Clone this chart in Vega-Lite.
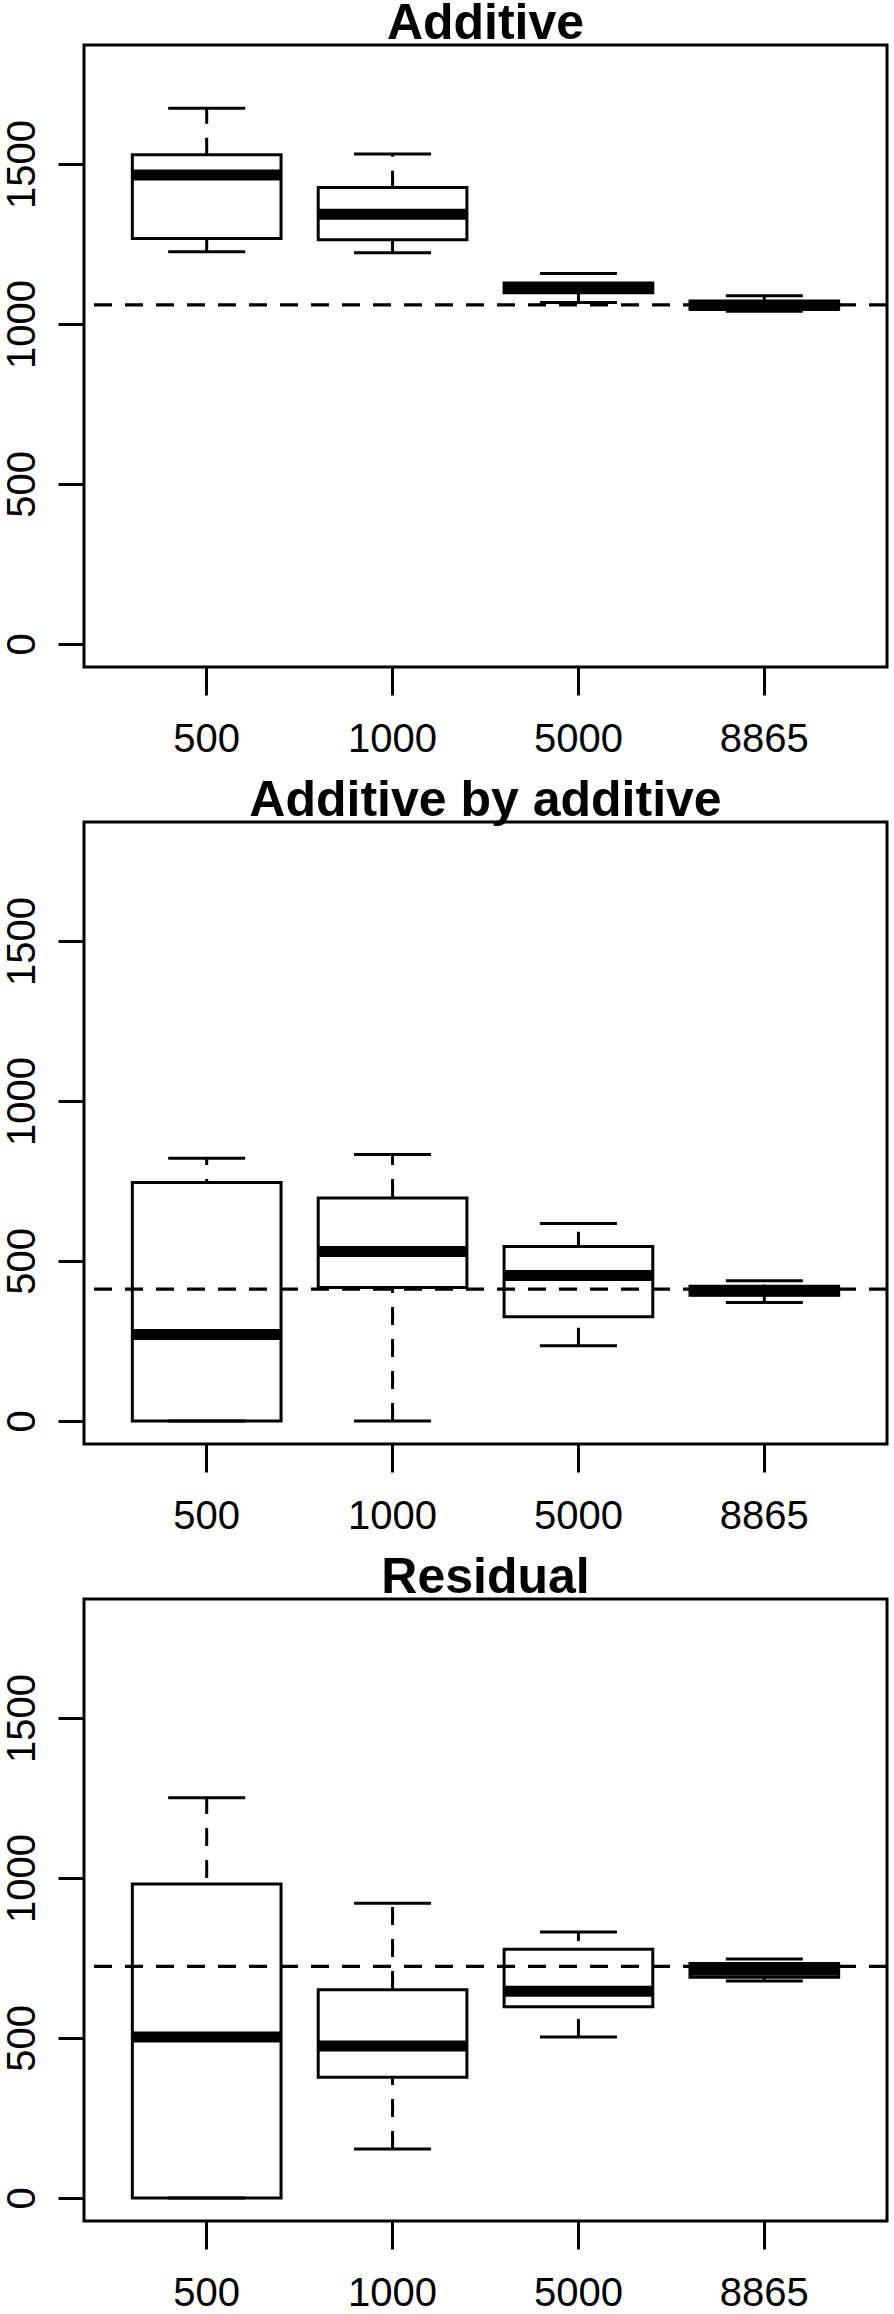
{
  "$schema": "https://vega.github.io/schema/vega-lite/v6.json",
  "background": "white",
  "padding": {"left": 0, "top": -3, "right": 0, "bottom": 0},
  "spacing": 13,
  "datasets": {
    "stats": [
      {"component": "Additive", "n": "500", "lower": 1226, "q1": 1267, "median": 1466, "q3": 1529, "upper": 1674},
      {"component": "Additive", "n": "1000", "lower": 1223, "q1": 1263, "median": 1343, "q3": 1427, "upper": 1531},
      {"component": "Additive", "n": "5000", "lower": 1067, "q1": 1098, "median": 1111, "q3": 1128, "upper": 1158},
      {"component": "Additive", "n": "8865", "lower": 1040, "q1": 1047, "median": 1058, "q3": 1072, "upper": 1088},
      {"component": "Additive by additive", "n": "500", "lower": 0, "q1": 0, "median": 270, "q3": 745, "upper": 821},
      {"component": "Additive by additive", "n": "1000", "lower": 0, "q1": 417, "median": 530, "q3": 697, "upper": 833},
      {"component": "Additive by additive", "n": "5000", "lower": 235, "q1": 326, "median": 455, "q3": 545, "upper": 617},
      {"component": "Additive by additive", "n": "8865", "lower": 370, "q1": 393, "median": 407, "q3": 421, "upper": 438},
      {"component": "Residual", "n": "500", "lower": 0, "q1": 0, "median": 503, "q3": 981, "upper": 1251},
      {"component": "Residual", "n": "1000", "lower": 153, "q1": 377, "median": 475, "q3": 651, "upper": 921},
      {"component": "Residual", "n": "5000", "lower": 503, "q1": 598, "median": 646, "q3": 777, "upper": 831},
      {"component": "Residual", "n": "8865", "lower": 678, "q1": 690, "median": 712, "q3": 733, "upper": 747}
    ],
    "ref": [
      {"component": "Additive", "value": 1060},
      {"component": "Additive by additive", "value": 412},
      {"component": "Residual", "value": 724}
    ]
  },
  "vconcat": [
    {
      "width": 803, "height": 622,
      "title": {"text": "Additive"},
      "layer": [
        {"data": {"name": "stats"}, "transform": [{"filter": "datum.component === 'Additive'"}],
         "mark": {"type": "rule", "strokeDash": [18, 14], "strokeWidth": 3, "color": "black"},
         "encoding": {
           "x": {"field": "n", "type": "nominal", "sort": ["500", "1000", "5000", "8865"], "scale": {"paddingInner": 0, "paddingOuter": 0.16}, "axis": {"labelAngle": 0}},
           "y": {"field": "lower", "type": "quantitative", "scale": {"domain": [-72, 1872], "nice": false, "zero": false}, "axis": {"values": [0, 500, 1000, 1500], "format": "d"}},
           "y2": {"field": "upper"}}},
        {"data": {"name": "stats"}, "transform": [{"filter": "datum.component === 'Additive'"}],
         "mark": {"type": "bar", "fill": "white", "stroke": "black", "strokeWidth": 3, "width": {"band": 0.8}},
         "encoding": {"x": {"field": "n", "type": "nominal", "sort": ["500", "1000", "5000", "8865"]}, "y": {"field": "q1", "type": "quantitative"}, "y2": {"field": "q3"}}},
        {"data": {"name": "stats"}, "transform": [{"filter": "datum.component === 'Additive'"}],
         "mark": {"type": "tick", "size": 77, "thickness": 3, "color": "black", "opacity": 1},
         "encoding": {"x": {"field": "n", "type": "nominal", "sort": ["500", "1000", "5000", "8865"]}, "y": {"field": "upper", "type": "quantitative"}}},
        {"data": {"name": "stats"}, "transform": [{"filter": "datum.component === 'Additive'"}],
         "mark": {"type": "tick", "size": 77, "thickness": 3, "color": "black", "opacity": 1},
         "encoding": {"x": {"field": "n", "type": "nominal", "sort": ["500", "1000", "5000", "8865"]}, "y": {"field": "lower", "type": "quantitative"}}},
        {"data": {"name": "stats"}, "transform": [{"filter": "datum.component === 'Additive'"}],
         "mark": {"type": "tick", "size": 150, "thickness": 11, "color": "black", "opacity": 1},
         "encoding": {"x": {"field": "n", "type": "nominal", "sort": ["500", "1000", "5000", "8865"]}, "y": {"field": "median", "type": "quantitative"}}},
        {"data": {"name": "ref"}, "transform": [{"filter": "datum.component === 'Additive'"}],
         "mark": {"type": "rule", "strokeDash": [18, 13], "strokeWidth": 3.3, "color": "black"},
         "encoding": {"y": {"field": "value", "type": "quantitative"}}}
      ]
    },
    {
      "width": 803, "height": 622,
      "title": {"text": "Additive by additive"},
      "layer": [
        {"data": {"name": "stats"}, "transform": [{"filter": "datum.component === 'Additive by additive'"}],
         "mark": {"type": "rule", "strokeDash": [18, 14], "strokeWidth": 3, "color": "black"},
         "encoding": {
           "x": {"field": "n", "type": "nominal", "sort": ["500", "1000", "5000", "8865"], "scale": {"paddingInner": 0, "paddingOuter": 0.16}, "axis": {"labelAngle": 0}},
           "y": {"field": "lower", "type": "quantitative", "scale": {"domain": [-72, 1872], "nice": false, "zero": false}, "axis": {"values": [0, 500, 1000, 1500], "format": "d"}},
           "y2": {"field": "upper"}}},
        {"data": {"name": "stats"}, "transform": [{"filter": "datum.component === 'Additive by additive'"}],
         "mark": {"type": "bar", "fill": "white", "stroke": "black", "strokeWidth": 3, "width": {"band": 0.8}},
         "encoding": {"x": {"field": "n", "type": "nominal", "sort": ["500", "1000", "5000", "8865"]}, "y": {"field": "q1", "type": "quantitative"}, "y2": {"field": "q3"}}},
        {"data": {"name": "stats"}, "transform": [{"filter": "datum.component === 'Additive by additive'"}],
         "mark": {"type": "tick", "size": 77, "thickness": 3, "color": "black", "opacity": 1},
         "encoding": {"x": {"field": "n", "type": "nominal", "sort": ["500", "1000", "5000", "8865"]}, "y": {"field": "upper", "type": "quantitative"}}},
        {"data": {"name": "stats"}, "transform": [{"filter": "datum.component === 'Additive by additive'"}],
         "mark": {"type": "tick", "size": 77, "thickness": 3, "color": "black", "opacity": 1},
         "encoding": {"x": {"field": "n", "type": "nominal", "sort": ["500", "1000", "5000", "8865"]}, "y": {"field": "lower", "type": "quantitative"}}},
        {"data": {"name": "stats"}, "transform": [{"filter": "datum.component === 'Additive by additive'"}],
         "mark": {"type": "tick", "size": 150, "thickness": 11, "color": "black", "opacity": 1},
         "encoding": {"x": {"field": "n", "type": "nominal", "sort": ["500", "1000", "5000", "8865"]}, "y": {"field": "median", "type": "quantitative"}}},
        {"data": {"name": "ref"}, "transform": [{"filter": "datum.component === 'Additive by additive'"}],
         "mark": {"type": "rule", "strokeDash": [18, 13], "strokeWidth": 3.3, "color": "black"},
         "encoding": {"y": {"field": "value", "type": "quantitative"}}}
      ]
    },
    {
      "width": 803, "height": 622,
      "title": {"text": "Residual"},
      "layer": [
        {"data": {"name": "stats"}, "transform": [{"filter": "datum.component === 'Residual'"}],
         "mark": {"type": "rule", "strokeDash": [18, 14], "strokeWidth": 3, "color": "black"},
         "encoding": {
           "x": {"field": "n", "type": "nominal", "sort": ["500", "1000", "5000", "8865"], "scale": {"paddingInner": 0, "paddingOuter": 0.16}, "axis": {"labelAngle": 0}},
           "y": {"field": "lower", "type": "quantitative", "scale": {"domain": [-72, 1872], "nice": false, "zero": false}, "axis": {"values": [0, 500, 1000, 1500], "format": "d"}},
           "y2": {"field": "upper"}}},
        {"data": {"name": "stats"}, "transform": [{"filter": "datum.component === 'Residual'"}],
         "mark": {"type": "bar", "fill": "white", "stroke": "black", "strokeWidth": 3, "width": {"band": 0.8}},
         "encoding": {"x": {"field": "n", "type": "nominal", "sort": ["500", "1000", "5000", "8865"]}, "y": {"field": "q1", "type": "quantitative"}, "y2": {"field": "q3"}}},
        {"data": {"name": "stats"}, "transform": [{"filter": "datum.component === 'Residual'"}],
         "mark": {"type": "tick", "size": 77, "thickness": 3, "color": "black", "opacity": 1},
         "encoding": {"x": {"field": "n", "type": "nominal", "sort": ["500", "1000", "5000", "8865"]}, "y": {"field": "upper", "type": "quantitative"}}},
        {"data": {"name": "stats"}, "transform": [{"filter": "datum.component === 'Residual'"}],
         "mark": {"type": "tick", "size": 77, "thickness": 3, "color": "black", "opacity": 1},
         "encoding": {"x": {"field": "n", "type": "nominal", "sort": ["500", "1000", "5000", "8865"]}, "y": {"field": "lower", "type": "quantitative"}}},
        {"data": {"name": "stats"}, "transform": [{"filter": "datum.component === 'Residual'"}],
         "mark": {"type": "tick", "size": 150, "thickness": 11, "color": "black", "opacity": 1},
         "encoding": {"x": {"field": "n", "type": "nominal", "sort": ["500", "1000", "5000", "8865"]}, "y": {"field": "median", "type": "quantitative"}}},
        {"data": {"name": "ref"}, "transform": [{"filter": "datum.component === 'Residual'"}],
         "mark": {"type": "rule", "strokeDash": [18, 13], "strokeWidth": 3.3, "color": "black"},
         "encoding": {"y": {"field": "value", "type": "quantitative"}}}
      ]
    }
  ],
  "config": {
    "font": "Liberation Sans",
    "view": {"stroke": "black", "strokeWidth": 3, "fill": "white"},
    "title": {"font": "Liberation Sans", "fontSize": 50, "fontWeight": "bold", "color": "black", "anchor": "middle", "frame": "group", "baseline": "alphabetic", "offset": -4},
    "axis": {"labelFont": "Liberation Sans", "labelFontSize": 40, "labelColor": "black", "tickColor": "black", "tickWidth": 3, "domain": false, "grid": false, "title": null, "labelOverlap": false, "labelFlush": false},
    "axisY": {"labelAngle": -90, "labelAlign": "center", "labelBaseline": "alphabetic", "tickSize": 26, "labelPadding": 24},
    "axisX": {"labelAngle": 0, "labelAlign": "center", "labelBaseline": "alphabetic", "tickSize": 28, "labelPadding": 56}
  }
}
